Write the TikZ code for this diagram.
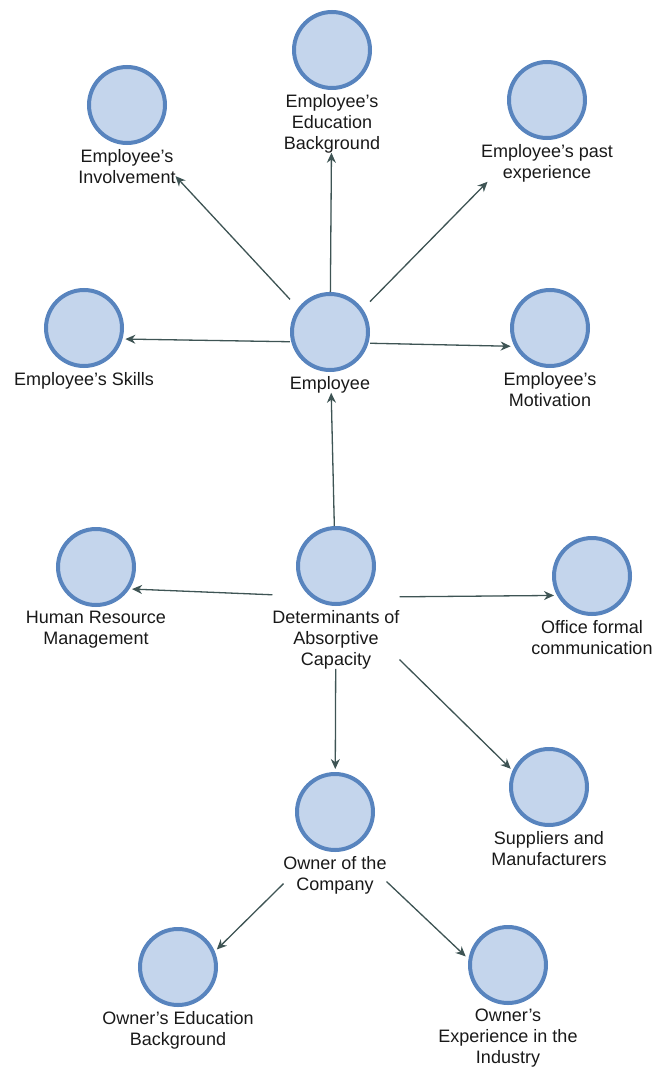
\documentclass[tikz,border=0pt]{standalone}
\usepackage{fontspec}
\setmainfont{Liberation Sans}
\usetikzlibrary{fit,arrows.meta}
\definecolor{cfill}{RGB}{196,213,236}
\definecolor{cborder}{RGB}{88,132,190}
\definecolor{edgec}{RGB}{62,84,84}
\definecolor{txtc}{RGB}{25,25,25}
\newcommand\mkconcept[3]{%
  \node[circ] (#1-c) at #2 {};
  \node[lbl] (#1-l) at ([yshift=-4pt]#1-c.south) {#3};
  \node[grp, fit=(#1-c.north)(#1-c.south)(#1-c.east)(#1-c.west)(#1-l.north west)(#1-l.south east)] (#1) {};
}
\begin{document}
\begin{tikzpicture}[x=1pt,y=-1pt,
  circ/.style={circle, draw=cborder, fill=cfill, line width=4pt, minimum size=76pt, inner sep=0pt},
  lbl/.style={align=center, inner sep=0pt, outer sep=0pt, anchor=north, text=txtc, font=\fontsize{18}{21}\selectfont},
  grp/.style={inner sep=0pt, outer sep=0pt, draw=none},
  arr/.style={-{Stealth[length=10pt,width=9pt]}, draw=edgec, fill=edgec, line width=1.3pt},
]
\useasboundingbox (0,0) rectangle (654,1067);
\mkconcept{edu}{(332,50)}{Employee's\\Education\\Background}
\mkconcept{inv}{(127,105)}{Employee's\\Involvement}
\mkconcept{past}{(547,100)}{Employee's past\\experience}
\mkconcept{skill}{(84,328)}{Employee's Skills}
\mkconcept{emp}{(330,332)}{Employee}
\mkconcept{mot}{(550,328)}{Employee's\\Motivation}
\mkconcept{hrm}{(96,567)}{Human Resource\\Management}
\mkconcept{det}{(336,566)}{Determinants of\\Absorptive\\Capacity}
\mkconcept{off}{(592,576)}{Office formal\\communication}
\mkconcept{sup}{(549,787)}{Suppliers and\\Manufacturers}
\mkconcept{own}{(335,812)}{Owner of the\\Company}
\mkconcept{oedu}{(178,967)}{Owner's Education\\Background}
\mkconcept{oexp}{(508,965)}{Owner's\\Experience in the\\Industry}
\draw[arr] (emp) -- (edu);
\draw[arr] (emp) -- (inv);
\draw[arr] (emp) -- (past);
\draw[arr, shorten >=-28.5pt] (emp) -- (skill);
\draw[arr, shorten >=-7pt] (emp) -- (mot);
\draw[arr] (det) -- (emp);
\draw[arr, shorten >=-34pt] (det) -- (hrm);
\draw[arr, shorten >=-22.5pt] (det) -- (off);
\draw[arr, shorten >=-27pt] (det) -- (sup);
\draw[arr, shorten >=3pt] (det) -- (own);
\draw[arr, shorten >=-32pt] (own) -- (oedu);
\draw[arr, shorten >=-37.5pt] (own) -- (oexp);
\end{tikzpicture}
\end{document}
